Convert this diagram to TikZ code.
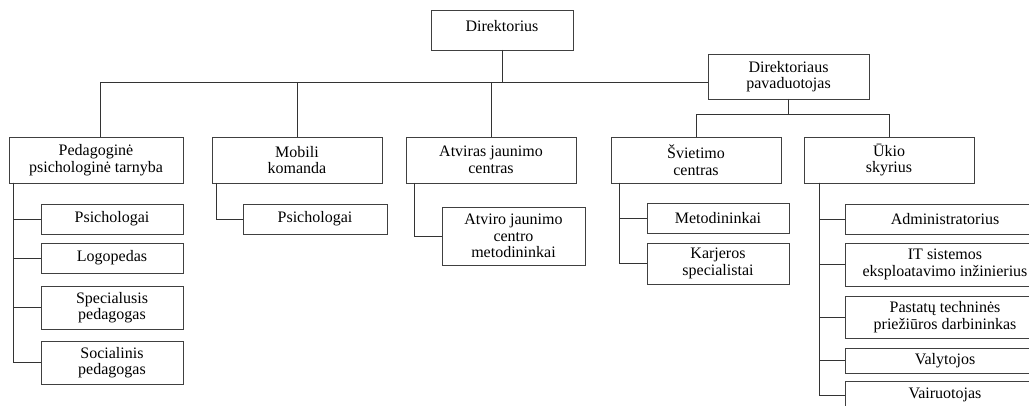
\documentclass[tikz,border=0pt]{standalone}
\usepackage{fontspec}
\setmainfont{Liberation Serif}
\usetikzlibrary{positioning}
\tikzstyle{every picture}+=[x=1pt,y=-1pt]
\tikzstyle{every picture}+=[line width=0.9pt]
\tikzstyle{every picture}+=[node distance=10pt]
\tikzstyle{box}+=[draw=black!75, fill=white]
\tikzstyle{box}+=[inner sep=0pt, outer sep=0pt, align=center]
\tikzstyle{box}+=[font=\fontsize{16}{16.5}\selectfont]
\tikzstyle{unit}+=[box, minimum width=170pt, minimum height=46pt]
\tikzstyle{sub}+=[box, minimum width=142pt, minimum height=30pt]
\tikzstyle{link}+=[draw=black!80]
\tikzstyle{elbow}+=[draw=black!80, to path={|- (\tikztotarget)}]

\begin{document}
\begin{tikzpicture}
\useasboundingbox (0,0) rectangle (1029,406);
\clip (0,0) rectangle (1029,406);

% head
\node[box, minimum width=142pt, minimum height=40pt, text depth=9pt] (dir) at (502,30) {Direktorius};
\node[box, minimum width=161pt, minimum height=45pt] (dep) at (788.5,76.5) {Direktoriaus\\pavaduotojas};
\coordinate (bus) at (502,82);
\coordinate (fork) at ([yshift=-15pt]dep.south);

% units
\node[unit, minimum width=174pt] (ppt) at (96,160) {Pedagoginė\\psichologinė tarnyba};
\node[unit] (mob) [right=29pt of ppt] {Mobili\\komanda};
\node[unit] (ajc) [right=24pt of mob] {Atviras jaunimo\\centras};
\node[unit] (svc) [right=35pt of ajc] {Švietimo\\centras};
\node[unit] (uki) [right=23pt of svc] {Ūkio\\skyrius};

% staff
\node[sub] (psi1) [below right=21pt and 32pt of ppt.south west] {Psichologai};
\node[sub] (logo) [below=9pt of psi1] {Logopedas};
\node[sub, minimum height=43pt] (spec) [below=13pt of logo] {Specialusis\\pedagogas};
\node[sub, minimum height=43pt] (soc) [below=12pt of spec] {Socialinis\\pedagogas};

\node[sub, minimum width=144pt] (psi2) [below right=21pt and 31pt of mob.south west] {Psichologai};

\node[sub, minimum width=143pt, minimum height=58pt] (ajm) [below right=24pt and 36pt of ajc.south west] {Atviro jaunimo\\centro\\metodininkai};

\node[sub] (met) [below right=20pt and 36pt of svc.south west] {Metodininkai};
\node[sub, minimum height=41pt] (kar) [below=10pt of met] {Karjeros\\specialistai};

\node[sub, minimum width=200pt] (adm) [below right=21pt and 41pt of uki.south west] {Administratorius};
\node[sub, minimum width=200pt, minimum height=43pt] (it) [below=9pt of adm] {IT sistemos\\eksploatavimo inžinierius};
\node[sub, minimum width=200pt, minimum height=42pt] (pst) [below=10pt of it] {Pastatų techninės\\priežiūros darbininkas};
\node[sub, minimum width=200pt, minimum height=25pt] (val) [below=10pt of pst] {Valytojos};
\node[sub, minimum width=200pt, minimum height=28pt] (vai) [below=8pt of val] {Vairuotojas};

\coordinate (pps) at ([xshift=4pt]ppt.south west);
\coordinate (mbs) at ([xshift=4pt]mob.south west);
\coordinate (ajs) at ([xshift=8pt]ajc.south west);
\coordinate (svs) at ([xshift=8pt]svc.south west);
\coordinate (uks) at ([xshift=15pt]uki.south west);

\path
  (dir) edge[link] (bus)
  ([xshift=4pt]ppt.north) edge[elbow] (dep.west |- bus)
  (mob) edge[link] (mob |- bus)
  (ajc) edge[link] (ajc |- bus)
  (dep) edge[link] (fork)
  (svc) edge[elbow] (fork)
  (uki) edge[elbow] (fork)
  (pps) edge[elbow] (psi1)
  (pps) edge[elbow] (logo)
  (pps) edge[elbow] (spec)
  (pps) edge[elbow] (soc)
  (mbs) edge[elbow] (psi2)
  (ajs) edge[elbow] (ajm)
  (svs) edge[elbow] (met)
  (svs) edge[elbow] (kar)
  (uks) edge[elbow] (adm)
  (uks) edge[elbow] (it)
  (uks) edge[elbow] (pst)
  (uks) edge[elbow] (val)
  (uks) edge[elbow] (vai)
  ;
\end{tikzpicture}
\end{document}
